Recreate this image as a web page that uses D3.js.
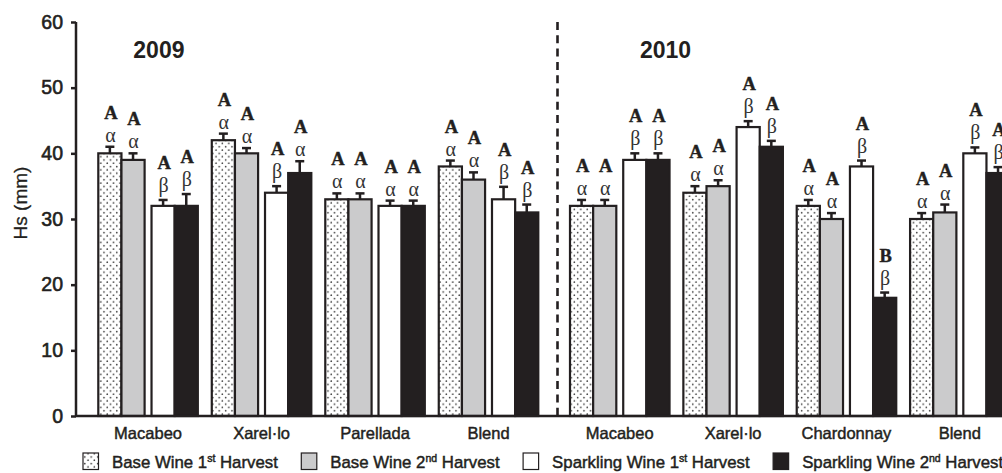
<!DOCTYPE html>
<html>
<head>
<meta charset="utf-8">
<script src="https://cdn.jsdelivr.net/npm/d3@7"></script>
<style>
  html, body { margin: 0; padding: 0; background: #fff; }
  svg { display: block; }
  .sans { font-family: "Liberation Sans", Arial, Helvetica, sans-serif; }
  .serif { font-family: "Liberation Serif", "Times New Roman", serif; }
</style>
</head>
<body>
<svg id="chart" width="1002" height="473"></svg>
<script>
// ---- data ----
const years = ["2009", "2010"];
const varieties2009 = ["Macabeo", "Xarel·lo", "Parellada", "Blend"];
const varieties2010 = ["Macabeo", "Xarel·lo", "Chardonnay", "Blend"];

// foam height Hs (mm), 2009 groups first then 2010 groups
const baseWine1st      = [40, 42, 33, 38, 32, 34, 32, 30];
const baseWine2nd      = [39, 40, 33, 36, 32, 35, 30, 31];
const sparklingWine1st = [32, 34, 32, 33, 39, 44, 38, 40];
const sparklingWine2nd = [32, 37, 32, 31, 39, 41, 18, 37];

// standard deviations
const baseWine1stErr      = [1.0, 1.0, 0.9, 0.9, 0.9, 1.0, 0.9, 0.9];
const baseWine2ndErr      = [1.0, 0.8, 0.9, 1.1, 0.9, 0.9, 0.9, 1.2];
const sparklingWine1stErr = [0.9, 1.0, 0.8, 1.9, 1.0, 0.9, 0.9, 0.9];
const sparklingWine2ndErr = [1.8, 1.8, 0.8, 1.2, 1.0, 0.9, 0.8, 0.9];

// significance letters (harvest: Latin, wine stage: Greek)
const baseWine1stLatin      = ["A", "A", "A", "A", "A", "A", "A", "A"];
const baseWine2ndLatin      = ["A", "A", "A", "A", "A", "A", "A", "A"];
const sparklingWine1stLatin = ["A", "A", "A", "A", "A", "A", "A", "A"];
const sparklingWine2ndLatin = ["A", "A", "A", "A", "A", "A", "B", "A"];
const baseWine1stGreek      = ["α", "α", "α", "α", "α", "α", "α", "α"];
const baseWine2ndGreek      = ["α", "α", "α", "α", "α", "α", "α", "α"];
const sparklingWine1stGreek = ["β", "β", "α", "β", "β", "β", "β", "β"];
const sparklingWine2ndGreek = ["β", "α", "α", "β", "β", "β", "β", "β"];

const seriesLabels = [
  ["Base Wine 1", "st", " Harvest"],
  ["Base Wine 2", "nd", " Harvest"],
  ["Sparkling Wine 1", "st", " Harvest"],
  ["Sparkling Wine 2", "nd", " Harvest"]
];
const yTicks = [0, 10, 20, 30, 40, 50, 60];

// ---- setup ----
const svg = d3.select("#chart");
const ink = "#231f20";

const defs = svg.append("defs");
const pat = defs.append("pattern")
  .attr("id", "dots").attr("patternUnits", "userSpaceOnUse")
  .attr("width", 6.4).attr("height", 6.6);
pat.append("rect").attr("width", 6.4).attr("height", 6.6).attr("fill", "#fff");
pat.append("circle").attr("cx", 1.6).attr("cy", 1.6).attr("r", 0.8).attr("fill", "#333");
pat.append("circle").attr("cx", 4.8).attr("cy", 4.9).attr("r", 0.8).attr("fill", "#333");

const fills = ["url(#dots)", "#cbcbcc", "#ffffff", ink];

const series = [
  { values: baseWine1st, err: baseWine1stErr, latin: baseWine1stLatin, greek: baseWine1stGreek },
  { values: baseWine2nd, err: baseWine2ndErr, latin: baseWine2ndLatin, greek: baseWine2ndGreek },
  { values: sparklingWine1st, err: sparklingWine1stErr, latin: sparklingWine1stLatin, greek: sparklingWine1stGreek },
  { values: sparklingWine2nd, err: sparklingWine2ndErr, latin: sparklingWine2ndLatin, greek: sparklingWine2ndGreek }
];

const y = d3.scaleLinear().domain([0, 60]).range([416, 22]);
const axisX = 76;

// one band scale per vintage panel
const panelScales = [
  d3.scaleBand().domain(varieties2009).range([98.3, 538.3]).paddingInner(0.123).paddingOuter(0),
  d3.scaleBand().domain(varieties2010).range([570, 1009.5]).paddingInner(0.123).paddingOuter(0)
];
const panelVarieties = [varieties2009, varieties2010];
const headerOffsets = [35, 70];

// within a group: base wine pair, sparkling wine pair
const pairScale = d3.scaleBand().domain(["base", "sparkling"])
  .range([0, panelScales[0].bandwidth()]).paddingInner(0.13).paddingOuter(0);
const barScale = d3.scaleBand().domain([0, 1]).range([0, pairScale.bandwidth()]);

function barX(groupIndex, seriesIndex) {
  const panel = groupIndex < 4 ? 0 : 1;
  const variety = panelVarieties[panel][groupIndex % 4];
  const pair = seriesIndex < 2 ? "base" : "sparkling";
  return panelScales[panel](variety) + pairScale(pair) + barScale(seriesIndex % 2);
}

// ---- bars ----
const bars = [];
series.forEach((s, si) => {
  s.values.forEach((v, gi) => {
    bars.push({ si, gi, v, e: s.err[gi], latin: s.latin[gi], greek: s.greek[gi] });
  });
});
const bw = barScale.bandwidth();

const barG = svg.append("g");
barG.selectAll("rect").data(bars).join("rect")
  .attr("x", d => barX(d.gi, d.si))
  .attr("y", d => y(d.v))
  .attr("width", bw)
  .attr("height", d => y(0) - y(d.v))
  .attr("fill", d => fills[d.si])
  .attr("stroke", ink)
  .attr("stroke-width", 2.2);

// error bars
const errG = svg.append("g").attr("stroke", ink).attr("stroke-width", 2.5);
errG.selectAll("line.stem").data(bars).join("line").attr("class", "stem")
  .attr("x1", d => barX(d.gi, d.si) + bw / 2).attr("x2", d => barX(d.gi, d.si) + bw / 2)
  .attr("y1", d => y(d.v)).attr("y2", d => y(d.v + d.e));
errG.selectAll("line.cap").data(bars).join("line").attr("class", "cap")
  .attr("x1", d => barX(d.gi, d.si) + bw / 2 - 4.5).attr("x2", d => barX(d.gi, d.si) + bw / 2 + 4.5)
  .attr("y1", d => y(d.v + d.e)).attr("y2", d => y(d.v + d.e));

// significance letters
const lettersG = svg.append("g").attr("class", "serif").attr("text-anchor", "middle");
lettersG.selectAll("text.greek").data(bars).join("text").attr("class", "greek")
  .attr("x", d => barX(d.gi, d.si) + bw / 2 + 0.5)
  .attr("y", d => y(d.v + d.e) - (d.greek === "β" ? 8 : 5))
  .attr("font-size", 20).attr("fill", "#333")
  .text(d => d.greek);
lettersG.selectAll("text.latin").data(bars).join("text").attr("class", "latin")
  .attr("x", d => barX(d.gi, d.si) + bw / 2 + 1)
  .attr("y", d => y(d.v + d.e) - (d.greek === "β" ? 31 : 28))
  .attr("font-size", 18.5).attr("font-weight", "bold").attr("fill", ink)
  .attr("stroke", ink).attr("stroke-width", 0.4)
  .text(d => d.latin);

// ---- axes ----
const yAxis = d3.axisLeft(y).tickValues(yTicks).tickSize(5).tickPadding(8);
const yAxisG = svg.append("g").attr("transform", `translate(${axisX},0)`).call(yAxis);
yAxisG.select(".domain").attr("stroke", ink).attr("stroke-width", 2.5).attr("d", `M0,${y(60)}V${y(0)}`);
yAxisG.selectAll(".tick line").attr("stroke", ink).attr("stroke-width", 2.5);
yAxisG.selectAll(".tick text")
  .attr("font-size", 19.5).attr("fill", ink)
  .attr("stroke", ink).attr("stroke-width", 0.6)
  .attr("font-family", "Liberation Sans, Arial, sans-serif");

// baseline
svg.append("line")
  .attr("x1", axisX).attr("x2", 1002).attr("y1", y(0)).attr("y2", y(0))
  .attr("stroke", ink).attr("stroke-width", 2.5);

// y title
svg.append("text").attr("class", "sans")
  .attr("transform", `translate(27,${(y(0) + y(60)) / 2 - 16}) rotate(-90)`)
  .attr("text-anchor", "middle").attr("font-size", 19).attr("fill", ink)
  .attr("stroke", ink).attr("stroke-width", 0.3)
  .text("Hs (mm)");

// variety labels
panelScales.forEach((sc, p) => {
  svg.append("g").selectAll("text").data(panelVarieties[p]).join("text")
    .attr("class", "sans")
    .attr("x", d => sc(d) + sc.bandwidth() / 2)
    .attr("y", 438.5)
    .attr("text-anchor", "middle").attr("font-size", 16.5).attr("fill", ink)
    .attr("stroke", ink).attr("stroke-width", 0.45)
    .text(d => d);
});

// vintage headers
panelScales.forEach((sc, p) => {
  svg.append("text").attr("class", "sans")
    .attr("x", sc.range()[0] + headerOffsets[p]).attr("y", 58.3)
    .attr("font-size", 23).attr("font-weight", "bold").attr("fill", ink)
    .text(years[p]);
});

// separator between vintages
svg.append("line")
  .attr("x1", panelScales[1].range()[0] - 12.5).attr("x2", panelScales[1].range()[0] - 12.5)
  .attr("y1", y(60)).attr("y2", y(0))
  .attr("stroke", ink).attr("stroke-width", 2.6).attr("stroke-dasharray", "8,5.3");

// ---- legend ----
const legend = svg.append("g").attr("class", "sans");
let lx = 83;
seriesLabels.forEach((parts, i) => {
  legend.append("rect")
    .attr("x", lx).attr("y", 453).attr("width", 15.5).attr("height", 16.5)
    .attr("fill", fills[i]).attr("stroke", ink).attr("stroke-width", 1.2);
  const t = legend.append("text")
    .attr("x", lx + 29).attr("y", 468.3)
    .attr("font-size", 16.8).attr("fill", ink)
    .attr("stroke", ink).attr("stroke-width", 0.45);
  t.append("tspan").text(parts[0]);
  t.append("tspan").attr("font-size", 10.5).attr("dy", -6).text(parts[1]);
  t.append("tspan").attr("dy", 6).text(parts[2]);
  lx = lx + 29 + t.node().getComputedTextLength() + 23.5;
});
</script>
</body>
</html>
